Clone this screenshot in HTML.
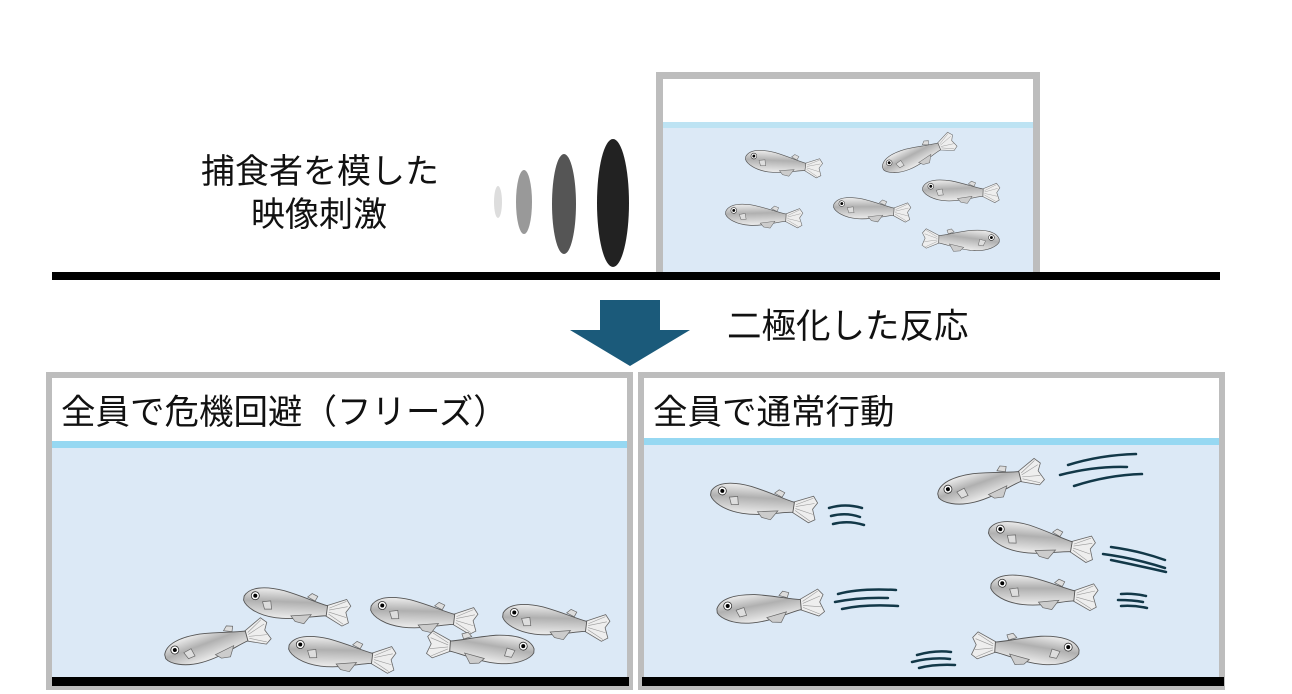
<!DOCTYPE html>
<html><head><meta charset="utf-8"><style>
html,body{margin:0;padding:0;background:#fff;}
body{width:1292px;height:694px;overflow:hidden;position:relative;font-family:"Liberation Sans","Noto Sans CJK JP",sans-serif;}
.t{position:absolute;color:#111;white-space:nowrap;line-height:1;}
</style></head><body>
<svg width="1292" height="694" style="position:absolute;left:0;top:0">
<defs>
<linearGradient id="g" x1="0" y1="0" x2="0.3" y2="1">
<stop offset="0" stop-color="#f8f8f8"/><stop offset="0.5" stop-color="#b0b0b0"/><stop offset="1" stop-color="#e8e8e8"/></linearGradient>
<symbol id="fish" viewBox="0 0 110 34" overflow="visible">
<path d="M84,14 L103,5 L108,11 L104,18 L108,28 L102,32 L84,24 Z" fill="#eee" stroke="#666" stroke-width="0.8"/>
<path d="M103,7 L87,16 M105,12 L87,18 M105,23 L87,20 M103,30 L87,22" stroke="#999" stroke-width="0.6"/>
<path d="M64,8 L68,4 L74,6 L72,11 Z" fill="#ddd" stroke="#666" stroke-width="0.7"/>
<path d="M1,16 C5,6 20,3 40,5 C60,8 72,12 85,14 L85,24 C72,26 55,33 35,33 C16,33 4,26 1,20 Z" fill="url(#g)" stroke="#555" stroke-width="0.9"/>
<path d="M50,29 L70,25 L64,35 L55,34 Z" fill="#ccc" stroke="#666" stroke-width="0.7"/>
<path d="M20,19 L28,17 L30,25 L23,26 Z" fill="#ddd" stroke="#666" stroke-width="0.7"/>
<circle cx="12" cy="14" r="4" fill="#fff" stroke="#333" stroke-width="0.8"/>
<circle cx="12" cy="14" r="2" fill="#000"/>
</symbol>
</defs>

<rect x="659.5" y="75.5" width="377" height="200" fill="#fff" stroke="#bdbdbd" stroke-width="7"/>
<rect x="663" y="122" width="370" height="150" fill="#dce9f6"/>
<rect x="663" y="122" width="370" height="6" fill="#bde3f3"/>
<rect x="52" y="272" width="1168" height="8" fill="#000"/>

<ellipse cx="498" cy="202" rx="4" ry="16" fill="#ddd"/>
<ellipse cx="524" cy="202" rx="8" ry="32" fill="#999"/>
<ellipse cx="564" cy="204" rx="12" ry="50" fill="#555"/>
<ellipse cx="613" cy="203" rx="16" ry="64" fill="#222"/>

<polygon points="600,300 660,300 660,330 690,330 630,366 570,330 600,330" fill="#1b5a7a"/>

<rect x="49" y="375" width="581" height="312" fill="#fff" stroke="#bdbdbd" stroke-width="6"/>
<rect x="52" y="441" width="575" height="238" fill="#dce9f6"/>
<rect x="52" y="441" width="575" height="7" fill="#96d8f2"/>
<rect x="52" y="677" width="577" height="9" fill="#000"/>

<rect x="641" y="375" width="581" height="312" fill="#fff" stroke="#bdbdbd" stroke-width="6"/>
<rect x="644" y="438" width="575" height="241" fill="#dce9f6"/>
<rect x="644" y="438" width="575" height="7" fill="#96d8f2"/>
<rect x="642" y="677" width="582" height="9" fill="#000"/>

<g transform="translate(745,157) rotate(8) scale(0.72) translate(0,-17)"><use href="#fish" width="110" height="34"/></g>
<g transform="translate(882,168) rotate(-22) scale(0.72) translate(0,-17)"><use href="#fish" width="110" height="34"/></g>
<g transform="translate(922,188) rotate(3) scale(0.72) translate(0,-17)"><use href="#fish" width="110" height="34"/></g>
<g transform="translate(833,205) rotate(5) scale(0.72) translate(0,-17)"><use href="#fish" width="110" height="34"/></g>
<g transform="translate(725,212) rotate(4) scale(0.72) translate(0,-17)"><use href="#fish" width="110" height="34"/></g>
<g transform="translate(1000,240) scale(-0.72,0.72) rotate(-2) translate(0,-17)"><use href="#fish" width="110" height="34"/></g>

<g transform="translate(243,597) rotate(8)  translate(0,-17)"><use href="#fish" width="110" height="34"/></g>
<g transform="translate(164,656) rotate(-15) translate(0,-17)"><use href="#fish" width="110" height="34"/></g>
<g transform="translate(370,607) rotate(7) translate(0,-17)"><use href="#fish" width="110" height="34"/></g>
<g transform="translate(288,646) rotate(7) translate(0,-17)"><use href="#fish" width="110" height="34"/></g>
<g transform="translate(502,614) rotate(7) translate(0,-17)"><use href="#fish" width="110" height="34"/></g>
<g transform="translate(535,650) scale(-1,1) rotate(-4) translate(0,-17)"><use href="#fish" width="110" height="34"/></g>

<g transform="translate(710,492) rotate(9) translate(0,-17)"><use href="#fish" width="110" height="34"/></g>
<g transform="translate(937,495) rotate(-14) translate(0,-17)"><use href="#fish" width="110" height="34"/></g>
<g transform="translate(988,530) rotate(10) translate(0,-17)"><use href="#fish" width="110" height="34"/></g>
<g transform="translate(716,610) rotate(-5) translate(0,-17)"><use href="#fish" width="110" height="34"/></g>
<g transform="translate(990,585) rotate(6) translate(0,-17)"><use href="#fish" width="110" height="34"/></g>
<g transform="translate(1080,651) scale(-1,1) rotate(-4) translate(0,-17)"><use href="#fish" width="110" height="34"/></g>

<g fill="none" stroke="#123848" stroke-width="2.5" stroke-linecap="round">
<path d="M829,508 Q845,503 862,508 M831,516 Q846,512 860,517 M833,524 Q848,520 864,525"/>
<path d="M1068,465 Q1100,455 1136,454 M1060,475 Q1095,466 1127,467 M1074,486 Q1108,475 1142,474"/>
<path d="M1111,547 Q1140,551 1165,560 M1103,554 Q1134,558 1165,568 M1111,560 Q1140,566 1166,572"/>
<path d="M838,594 Q860,588 896,590 M835,602 Q860,597 888,598 M842,609 Q865,604 898,606"/>
<path d="M1121,594 Q1133,593 1146,596 M1118,600 Q1133,600 1143,602 M1121,606 Q1134,605 1147,608"/>
<path d="M917,655 Q935,650 951,652 M912,662 Q932,657 950,659 M919,668 Q935,664 955,665"/>
</g>
</svg>

<div class="t" style="left:201px;top:155px;font-size:34px;">捕食者を模した</div>
<div class="t" style="left:251px;top:198px;font-size:34px;">映像刺激</div>
<div class="t" style="left:727px;top:310px;font-size:34.5px;">二極化した反応</div>
<div class="t" style="left:61px;top:396px;font-size:34.5px;">全員で危機回避（フリーズ）</div>
<div class="t" style="left:653px;top:396px;font-size:34.5px;">全員で通常行動</div>
</body></html>
